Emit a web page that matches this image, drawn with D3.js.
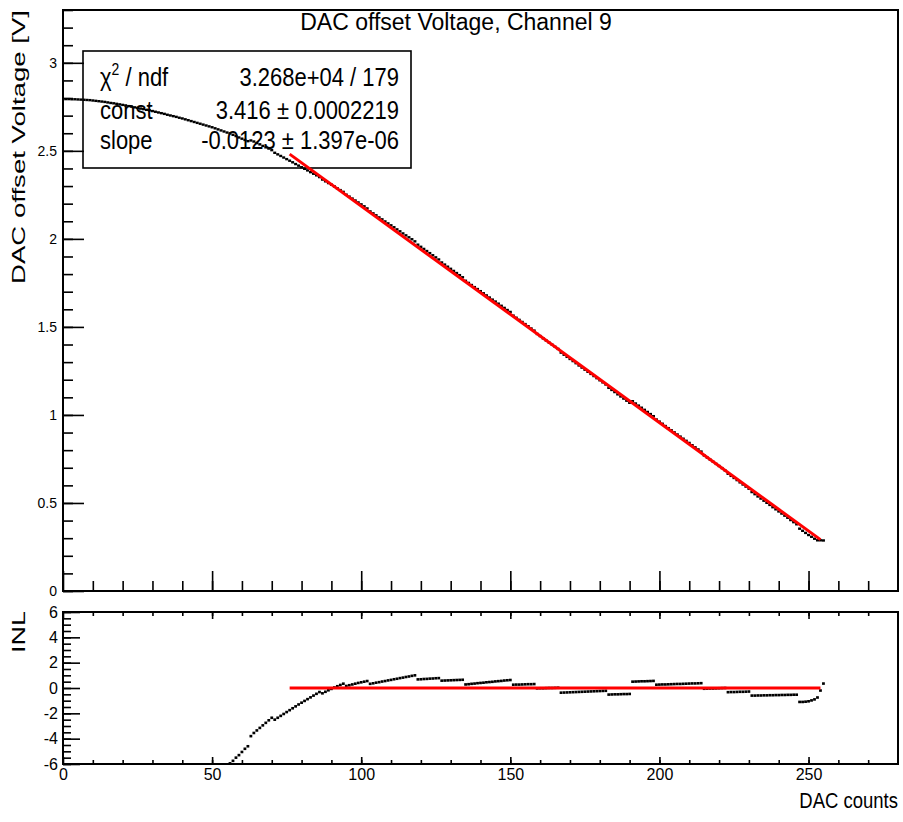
<!DOCTYPE html>
<html>
<head>
<meta charset="utf-8">
<script src="https://cdn.jsdelivr.net/npm/d3@7"></script>
<style>
  html, body { margin: 0; padding: 0; background: #fff; }
  svg { display: block; font-family: "Liberation Sans", Arial, Helvetica, sans-serif; }
</style>
</head>
<body>
<div id="chart"></div>
<script>
// measured output voltage for DAC codes 0..255
var voltage = [
  2.794,2.794,2.794,2.793,2.793,2.792,2.791,2.790,2.789,2.788,
  2.786,2.784,2.782,2.780,2.778,2.775,2.772,2.770,2.767,2.764,
  2.761,2.758,2.754,2.751,2.747,2.744,2.740,2.737,2.733,2.730,
  2.726,2.722,2.718,2.714,2.710,2.705,2.701,2.697,2.693,2.688,
  2.684,2.679,2.674,2.669,2.664,2.659,2.654,2.649,2.644,2.639,
  2.634,2.628,2.622,2.616,2.610,2.604,2.599,2.591,2.584,2.576,
  2.569,2.562,2.555,2.559,2.553,2.544,2.537,2.528,2.520,2.513,
  2.504,2.489,2.480,2.471,2.462,2.453,2.444,2.435,2.425,2.416,
  2.407,2.398,2.389,2.379,2.370,2.361,2.351,2.337,2.327,2.317,
  2.308,2.298,2.287,2.277,2.267,2.251,2.240,2.229,2.218,2.207,
  2.196,2.185,2.173,2.156,2.145,2.134,2.122,2.111,2.099,2.088,
  2.077,2.066,2.054,2.043,2.031,2.020,2.009,1.998,1.986,1.967,
  1.955,1.943,1.931,1.919,1.907,1.895,1.883,1.866,1.854,1.842,
  1.830,1.818,1.806,1.794,1.782,1.762,1.750,1.738,1.726,1.715,
  1.703,1.691,1.679,1.667,1.655,1.644,1.632,1.620,1.608,1.596,
  1.585,1.564,1.552,1.540,1.528,1.516,1.504,1.491,1.479,1.460,
  1.448,1.435,1.423,1.411,1.399,1.387,1.375,1.354,1.342,1.330,
  1.318,1.306,1.294,1.281,1.269,1.257,1.245,1.233,1.221,1.209,
  1.197,1.185,1.173,1.154,1.142,1.130,1.117,1.105,1.093,1.081,
  1.069,1.078,1.065,1.053,1.041,1.029,1.017,1.005,0.993,0.974,
  0.962,0.950,0.937,0.925,0.913,0.901,0.889,0.877,0.865,0.853,
  0.841,0.828,0.816,0.804,0.792,0.770,0.758,0.746,0.734,0.722,
  0.710,0.698,0.685,0.666,0.654,0.642,0.630,0.617,0.605,0.593,
  0.581,0.562,0.550,0.537,0.525,0.513,0.501,0.489,0.476,0.464,
  0.452,0.440,0.428,0.416,0.403,0.391,0.379,0.354,0.342,0.330,
  0.318,0.308,0.297,0.288,0.288,0.287
];

// INL for DAC codes 56..255 (lower codes are below the plotted range)
var inlStart = 56;
var inl = [
  -5.95,-5.75,-5.5,-5.3,-5.05,-4.8,-4.6,
  -3.8,-3.55,-3.35,-3.15,-2.95,-2.75,-2.55,-2.35,
  -2.5,-2.35,-2.2,-2.05,-1.9,-1.75,-1.6,-1.45,
  -1.3,-1.16,-1.02,-0.88,-0.74,-0.6,-0.46,-0.32,
  -0.42,-0.3,-0.18,-0.07,0.04,0.14,0.24,0.34,
  0.16,0.22,0.28,0.34,0.4,0.45,0.5,0.55,
  0.33,0.37,0.42,0.46,0.51,0.55,0.6,0.64,
  0.69,0.73,0.78,0.82,0.87,0.91,0.96,1.0,
  0.68,0.69,0.71,0.72,0.74,0.75,0.77,0.78,
  0.58,0.59,0.6,0.61,0.62,0.63,0.64,0.65,
  0.28,0.3,0.33,0.35,0.38,0.4,0.42,0.45,
  0.47,0.49,0.52,0.54,0.56,0.59,0.61,0.63,
  0.26,0.27,0.27,0.28,0.29,0.3,0.3,0.31,
  -0.03,-0.02,-0.02,-0.01,0,0,0.01,0.02,
  -0.37,-0.36,-0.35,-0.34,-0.33,-0.32,-0.31,-0.3,
  -0.29,-0.28,-0.27,-0.26,-0.25,-0.24,-0.23,-0.22,
  -0.52,-0.51,-0.5,-0.5,-0.49,-0.48,-0.48,-0.47,
  0.5,0.51,0.52,0.53,0.53,0.54,0.55,0.56,
  0.26,0.27,0.28,0.28,0.29,0.3,0.31,0.32,
  0.32,0.33,0.34,0.35,0.36,0.36,0.37,0.38,
  -0.06,-0.05,-0.04,-0.04,-0.03,-0.02,-0.01,0,
  -0.33,-0.32,-0.32,-0.31,-0.3,-0.3,-0.29,-0.28,
  -0.6,-0.6,-0.59,-0.59,-0.58,-0.58,-0.57,-0.57,
  -0.56,-0.56,-0.55,-0.55,-0.54,-0.54,-0.53,-0.53,
  -1.1,-1.1,-1.08,-1.05,-0.98,-0.9,-0.75,-0.2,0.35
];

// linear fit (pol1) over codes 76..254
var fitConst = 3.416, fitSlope = -0.0123;
var fitRange = [76, 254];

var statsLabels = ["χ", "const", "slope"];
var statsValues = ["3.268e+04 / 179", "3.416 ± 0.0002219", "-0.0123 ± 1.397e-06"];

var xMajor = [0, 50, 100, 150, 200, 250];
var topYMajor = [0, 0.5, 1, 1.5, 2, 2.5, 3];
var inlMajor = [-6, -4, -2, 0, 2, 4, 6];

var width = 903, height = 822;
var font = "'Liberation Sans', Arial, Helvetica, sans-serif";

var svg = d3.select("#chart").append("svg")
    .attr("width", width)
    .attr("height", height);

svg.append("rect").attr("width", width).attr("height", height).attr("fill", "#fff");

var x = d3.scaleLinear().domain([0, 280]).range([63, 898]);
var yTop = d3.scaleLinear().domain([0, 3.3]).range([591, 10]);
var yBot = d3.scaleLinear().domain([-6, 6]).range([764, 612]);

var defs = svg.append("defs");
defs.append("clipPath").attr("id", "clipTop").append("rect")
    .attr("x", x(0)).attr("y", yTop(3.3)).attr("width", x(280) - x(0)).attr("height", yTop(0) - yTop(3.3));
defs.append("clipPath").attr("id", "clipBot").append("rect")
    .attr("x", x(0)).attr("y", yBot(6) - 2).attr("width", x(280) - x(0)).attr("height", yBot(-6) - yBot(6) + 4);

function styleAxis(g, size){
  g.select(".domain").remove();
  g.selectAll(".tick line").attr("stroke", "#000").attr("stroke-width", 1.6);
  g.selectAll(".tick text").attr("fill", "#000").style("font-family", font).style("font-size", size + "px");
}

function addAxis(axis, tx, ty, size){
  var g = svg.append("g").attr("transform", "translate(" + tx + "," + ty + ")").call(axis);
  styleAxis(g, size);
  return g;
}

var noLabel = function(){ return ""; };
var plain = function(d){ return String(d); };

// ---- top panel axes
addAxis(d3.axisBottom(x).tickValues(d3.range(10, 280, 10)).tickSize(-10).tickSizeOuter(0).tickFormat(noLabel), 0, yTop(0), 14);
addAxis(d3.axisBottom(x).tickValues(xMajor).tickSize(-20).tickSizeOuter(0).tickFormat(noLabel), 0, yTop(0), 14);
addAxis(d3.axisLeft(yTop).tickValues(d3.range(0, 34).map(function(i){ return i / 10; })).tickSize(-10).tickSizeOuter(0).tickFormat(noLabel), x(0), 0, 14);
addAxis(d3.axisLeft(yTop).tickValues(topYMajor).tickSize(-21).tickSizeOuter(0).tickPadding(6).tickFormat(plain), x(0), 0, 14);

// ---- bottom panel axes
addAxis(d3.axisBottom(x).tickValues(d3.range(10, 280, 10)).tickSize(-4).tickSizeOuter(0).tickFormat(noLabel), 0, yBot(-6), 16);
addAxis(d3.axisBottom(x).tickValues(xMajor).tickSize(-7).tickSizeOuter(0).tickPadding(5).tickFormat(plain), 0, yBot(-6), 16);
addAxis(d3.axisTop(x).tickValues(d3.range(10, 280, 10)).tickSize(-4).tickSizeOuter(0).tickFormat(noLabel), 0, yBot(6), 16);
addAxis(d3.axisTop(x).tickValues(xMajor).tickSize(-7).tickSizeOuter(0).tickFormat(noLabel), 0, yBot(6), 16);
addAxis(d3.axisLeft(yBot).tickValues(d3.range(-6, 6.01, 0.5)).tickSize(-8).tickSizeOuter(0).tickFormat(noLabel), x(0), 0, 16);
addAxis(d3.axisLeft(yBot).tickValues(inlMajor).tickSize(-17).tickSizeOuter(0).tickPadding(5).tickFormat(plain), x(0), 0, 16);

// frames
svg.append("rect")
    .attr("x", x(0)).attr("y", yTop(3.3))
    .attr("width", x(280) - x(0)).attr("height", yTop(0) - yTop(3.3))
    .attr("fill", "none").attr("stroke", "#000").attr("stroke-width", 2);
svg.append("rect")
    .attr("x", x(0)).attr("y", yBot(6))
    .attr("width", x(280) - x(0)).attr("height", yBot(-6) - yBot(6))
    .attr("fill", "none").attr("stroke", "#000").attr("stroke-width", 2);

// stats box
var boxX = 83, boxY = 51, boxW = 328, boxH = 117;
svg.append("rect")
    .attr("x", boxX).attr("y", boxY).attr("width", boxW).attr("height", boxH)
    .attr("fill", "none").attr("stroke", "#000").attr("stroke-width", 1.6);

var rowBase = [86, 119, 149];
var stats = svg.append("g").style("font-family", font).style("font-size", "22px").attr("fill", "#000");
statsLabels.forEach(function(lab, i){
  var t = stats.append("text")
      .attr("transform", "translate(" + (boxX + 17) + "," + rowBase[i] + ") scale(1,1.2)");
  if (i === 0){
    t.append("tspan").text(lab);
    t.append("tspan").attr("dy", -9).style("font-size", "14px").text("2");
    t.append("tspan").attr("dy", 9).text(" / ndf");
  } else {
    t.text(lab);
  }
  stats.append("text")
      .attr("transform", "translate(" + (boxX + boxW - 12) + "," + rowBase[i] + ") scale(1,1.2)")
      .attr("text-anchor", "end")
      .text(statsValues[i]);
});

// ---- data, top panel
var topData = svg.append("g").attr("clip-path", "url(#clipTop)");
topData.selectAll("rect.pt")
    .data(voltage)
  .enter().append("rect")
    .attr("class", "pt")
    .attr("x", function(d, i){ return x(i) - 1.5; })
    .attr("y", function(d){ return yTop(d) - 1.2; })
    .attr("width", 3)
    .attr("height", 2.4)
    .attr("fill", "#000");

topData.append("line")
    .attr("x1", x(fitRange[0])).attr("y1", yTop(fitConst + fitSlope * fitRange[0]))
    .attr("x2", x(fitRange[1])).attr("y2", yTop(fitConst + fitSlope * fitRange[1]))
    .attr("stroke", "#f00").attr("stroke-width", 3);

// ---- data, bottom panel
var botData = svg.append("g").attr("clip-path", "url(#clipBot)");
botData.selectAll("rect.pt")
    .data(inl.filter(function(d){ return d >= -6 && d <= 6; }).length ? inl : [])
  .enter().append("rect")
    .attr("class", "pt")
    .attr("x", function(d, i){ return x(inlStart + i) - 1.4; })
    .attr("y", function(d){ return yBot(d) - 1.3; })
    .attr("width", 2.8)
    .attr("height", 2.6)
    .attr("fill", "#000");

botData.append("line")
    .attr("x1", x(fitRange[0])).attr("y1", yBot(0))
    .attr("x2", x(fitRange[1])).attr("y2", yBot(0))
    .attr("stroke", "#f00").attr("stroke-width", 3);

// ---- titles
svg.append("text")
    .attr("x", 456).attr("y", 30)
    .attr("text-anchor", "middle")
    .style("font-family", font).style("font-size", "23px")
    .text("DAC offset Voltage, Channel 9");

svg.append("text")
    .attr("transform", "translate(25," + yTop(3.3) + ") rotate(-90)")
    .attr("text-anchor", "end")
    .attr("textLength", 274).attr("lengthAdjust", "spacingAndGlyphs")
    .style("font-family", font).style("font-size", "18px")
    .text("DAC offset Voltage [V]");

svg.append("text")
    .attr("transform", "translate(25," + (yBot(6) - 1) + ") rotate(-90)")
    .attr("text-anchor", "end")
    .attr("textLength", 42).attr("lengthAdjust", "spacingAndGlyphs")
    .style("font-family", font).style("font-size", "18px")
    .text("INL");

svg.append("text")
    .attr("transform", "translate(" + x(280) + ",808) scale(1,1.2)")
    .attr("text-anchor", "end")
    .style("font-family", font).style("font-size", "18.5px")
    .text("DAC counts");
</script>
</body>
</html>
